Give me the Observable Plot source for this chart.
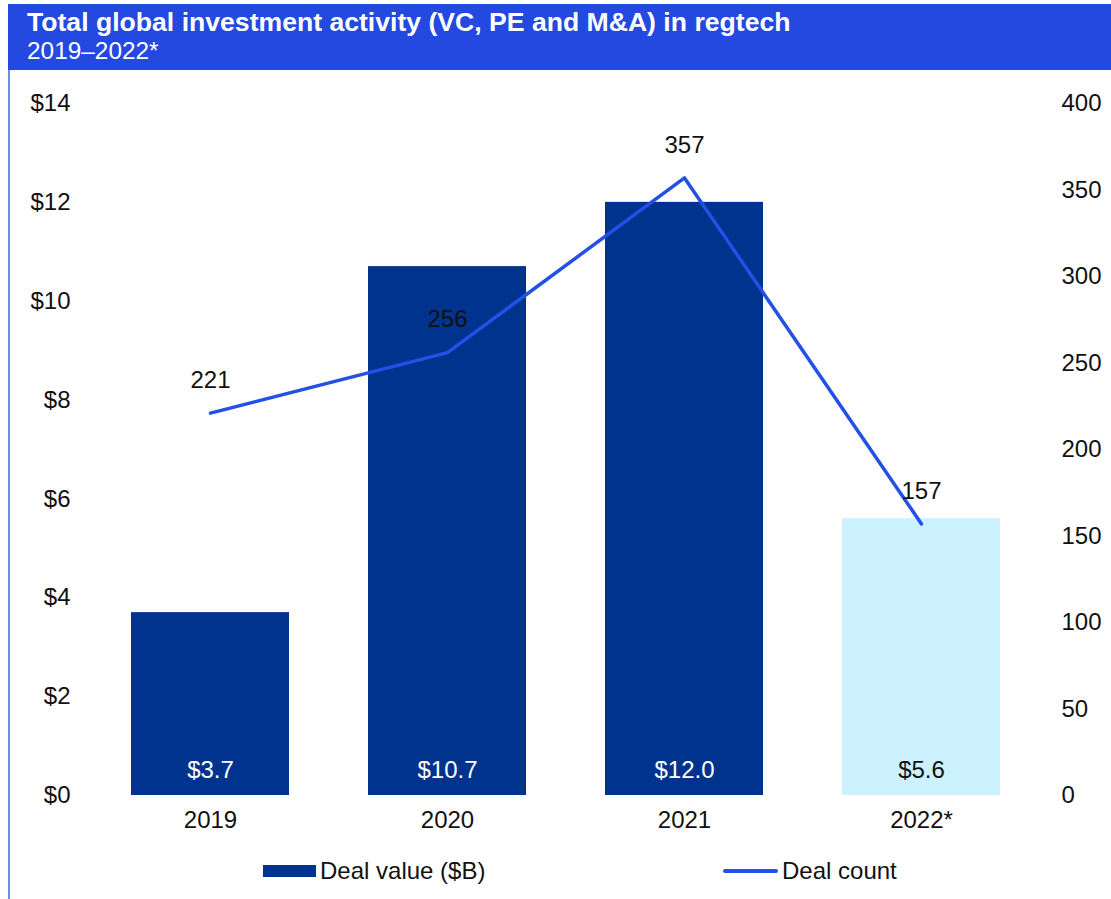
<!DOCTYPE html>
<html>
<head>
<meta charset="utf-8">
<script src="https://cdn.jsdelivr.net/npm/d3@7"></script>
<script src="https://cdn.jsdelivr.net/npm/@observablehq/plot@0.6"></script>
<style>
  html, body { margin: 0; padding: 0; background: #fff; }
  body { position: relative; width: 1111px; height: 899px; overflow: hidden; font-family: "Liberation Sans", Arial, sans-serif; }
  #leftline { position: absolute; left: 8px; top: 4px; width: 2px; height: 895px; background: #7189ea; }
  #header { position: absolute; left: 8px; top: 4px; width: 1103px; height: 66px; background: #2349e0; color: #fff; box-sizing: border-box; padding-left: 19px; }
  #title { font-weight: bold; font-size: 26.6px; line-height: 28px; margin-top: 4px; white-space: nowrap; }
  #subtitle { font-size: 24.4px; line-height: 26px; margin-top: 2px; }
  #chart { position: absolute; left: 0; top: 70px; }
  #legend { position: absolute; top: 857px; left: 0; width: 1111px; height: 28px; font-size: 24px; color: #111; }
  .item { position: absolute; top: 0; display: flex; align-items: center; height: 28px; white-space: nowrap; }
  .sw-bar { width: 53px; height: 12px; background: #00338d; margin-right: 4px; }
  .sw-line { width: 55px; height: 4px; background: #2350e6; border-radius: 2px; margin-right: 4px; }
</style>
</head>
<body>
<div id="leftline"></div>
<div id="header">
  <div id="title">Total global investment activity (VC, PE and M&amp;A) in regtech</div>
  <div id="subtitle">2019–2022*</div>
</div>
<div id="chart"></div>
<div id="legend">
  <div class="item" style="left:263px"><div class="sw-bar"></div><span>Deal value ($B)</span></div>
  <div class="item" style="left:723px"><div class="sw-line"></div><span>Deal count</span></div>
</div>
<script>
const years = ["2019", "2020", "2021", "2022*"];
const dealValue = [3.7, 10.7, 12.0, 5.6];
const dealCount = [221, 256, 357, 157];
const valueLabels = ["$3.7", "$10.7", "$12.0", "$5.6"];
const estimated = [false, false, false, true];
const leftTicks = [0, 2, 4, 6, 8, 10, 12, 14];
const rightTicks = [0, 50, 100, 150, 200, 250, 300, 350, 400];

const valueMax = 14, countMax = 400;
const toValue = c => c * valueMax / countMax;

const rows = years.map((y, i) => ({
  year: y, value: dealValue[i], count: dealCount[i],
  scaled: toValue(dealCount[i]), label: valueLabels[i], est: estimated[i]
}));

const chart = Plot.plot({
  width: 1111,
  height: 775,
  marginTop: 33,
  marginBottom: 50,
  marginLeft: 90,
  marginRight: 71,
  style: { fontFamily: "'Liberation Sans', Arial, sans-serif", fontSize: "24px", color: "#111", background: "transparent" },
  x: { domain: years, paddingInner: 1/3, paddingOuter: 1/6, label: null },
  y: { domain: [0, valueMax], label: null },
  marks: [
    Plot.barY(rows, { x: "year", y: "value", fill: d => d.est ? "#ccf1ff" : "#00338d" }),
    Plot.axisY(leftTicks, { anchor: "left", tickSize: 0, tickPadding: 20, tickFormat: d => "$" + d, label: null, fontSize: 24 }),
    Plot.axisY(rightTicks.map(toValue), { anchor: "right", tickSize: 0, tickPadding: 21, tickFormat: d => String(Math.round(d * countMax / valueMax)), label: null, fontSize: 24 }),
    Plot.axisX({ tickSize: 0, tickPadding: 15, label: null, fontSize: 24 }),
    Plot.text(rows, { x: "year", y: 0, text: "label", dy: -25, fill: d => d.est ? "#111" : "#fff", fontSize: 24 }),
    Plot.lineY(rows, { x: "year", y: "scaled", stroke: "#2350e6", strokeWidth: 3.5 }),
    Plot.text(rows, { x: "year", y: "scaled", text: d => String(d.count), dy: -33, fill: "#111", fontSize: 24 })
  ]
});
document.getElementById("chart").appendChild(chart);
</script>
</body>
</html>
